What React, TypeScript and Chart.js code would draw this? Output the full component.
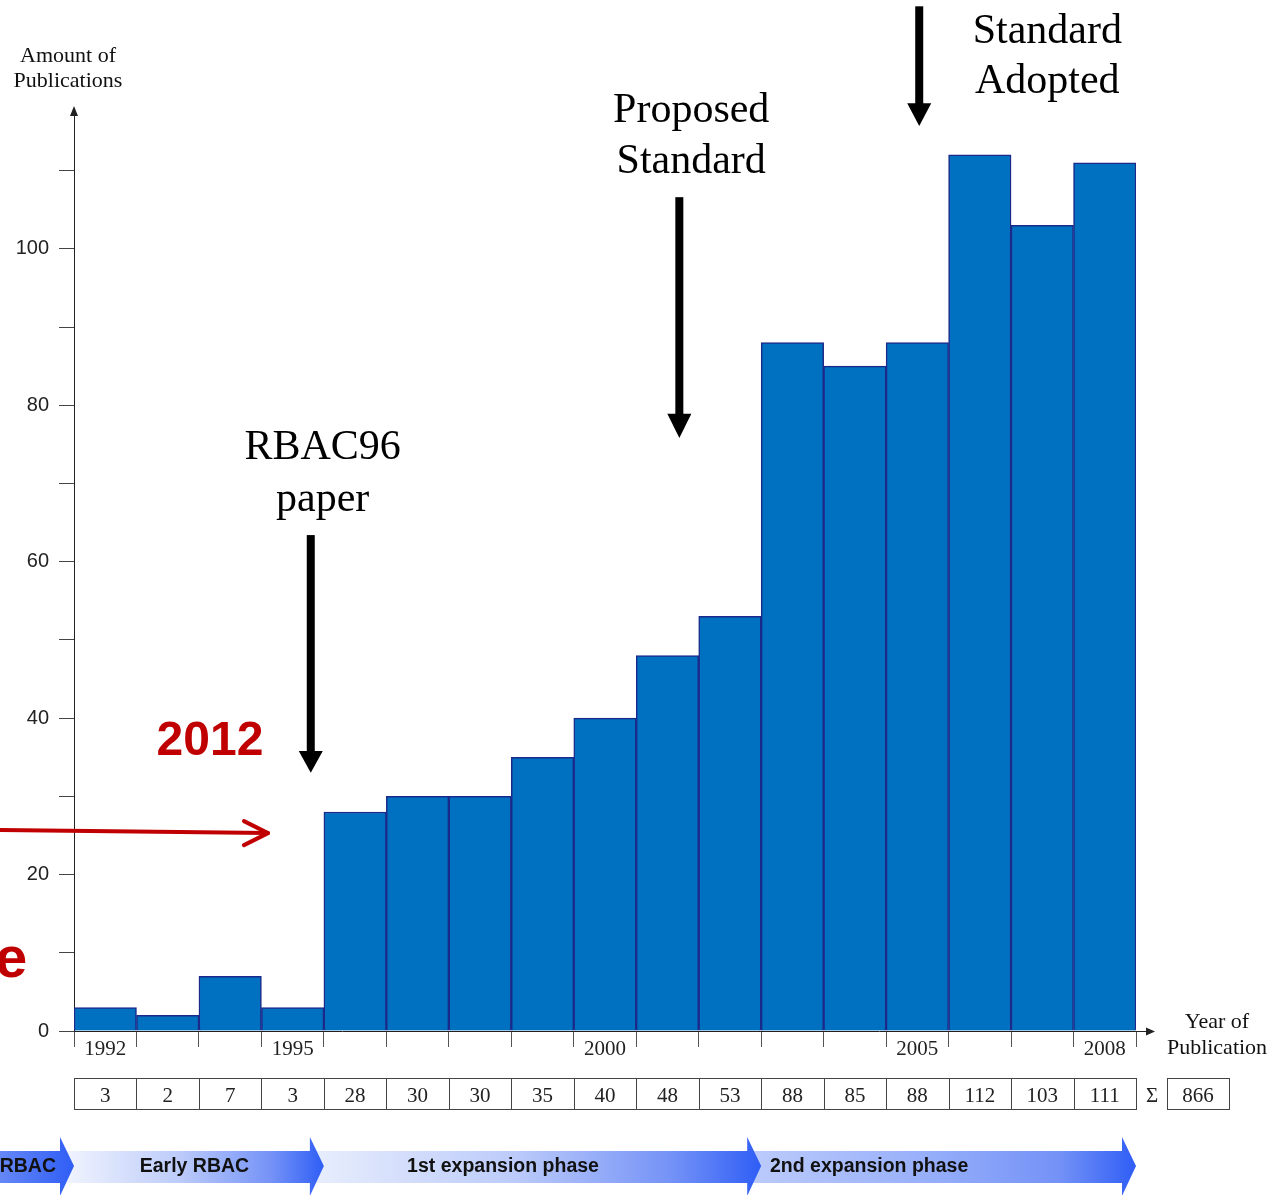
import React, { useEffect, useRef } from 'react';
import { Chart, registerables, Plugin } from 'chart.js';

Chart.register(...registerables);

const YEARS = ['1992', '1993', '1994', '1995', '1996', '1997', '1998', '1999', '2000', '2001', '2002', '2003', '2004', '2005', '2006', '2007', '2008'];
const PUBLICATIONS = [3, 2, 7, 3, 28, 30, 30, 35, 40, 48, 53, 88, 85, 88, 112, 103, 111];
const LABELED_YEARS = ['1992', '1995', '2000', '2005', '2008'];
const Y_MAX = 118;
const Y_STEP = 10;
const Y_LABEL_STEP = 20;

// phases below the chart: name and the index of the year where each phase ends
const PHASE_NAMES = ['RBAC', 'Early RBAC', '1st expansion phase', '2nd expansion phase'];
const PHASE_END = [0, 4, 11, 17];

const SERIF = '"Liberation Serif", "Times New Roman", serif';
const SANS = '"Liberation Sans", Arial, sans-serif';

function downArrow(ctx: CanvasRenderingContext2D, x: number, top: number, base: number, tip: number) {
  ctx.fillRect(x - 4, top, 8, base - top + 1);
  ctx.beginPath();
  ctx.moveTo(x - 12, base);
  ctx.lineTo(x + 12, base);
  ctx.lineTo(x, tip);
  ctx.closePath();
  ctx.fill();
}

const overlay: Plugin<'bar'> = {
  id: 'overlay',
  afterDraw(chart) {
    const { ctx, chartArea } = chart;
    const xs = chart.scales.x;
    const ys = chart.scales.y;
    const px = (i: number) => xs.getPixelForValue(i);
    const py = (v: number) => ys.getPixelForValue(v);
    const edge = (i: number) => px(i - 0.5);
    const { left, right, top, bottom } = chartArea;

    ctx.save();
    ctx.fillStyle = '#222';
    ctx.strokeStyle = '#222';
    ctx.lineWidth = 1;

    // x axis with arrow
    ctx.beginPath();
    ctx.moveTo(left, bottom + 0.5);
    ctx.lineTo(right + 12, bottom + 0.5);
    ctx.stroke();
    ctx.beginPath();
    ctx.moveTo(right + 19, bottom + 0.5);
    ctx.lineTo(right + 10, bottom - 3.5);
    ctx.lineTo(right + 10, bottom + 4.5);
    ctx.closePath();
    ctx.fill();

    // y axis arrow
    ctx.beginPath();
    ctx.moveTo(left, top - 2);
    ctx.lineTo(left - 4, top + 8);
    ctx.lineTo(left + 4, top + 8);
    ctx.closePath();
    ctx.fill();

    // axis titles
    ctx.fillStyle = '#111';
    ctx.font = `22px ${SERIF}`;
    ctx.textAlign = 'center';
    ctx.textBaseline = 'alphabetic';
    ctx.fillText('Amount of', left - 6, top - 46);
    ctx.fillText('Publications', left - 6, top - 21);
    ctx.fillText('Year of', right + 81, bottom - 3);
    ctx.fillText('Publication', right + 81, bottom + 23);

    // value table
    const tTop = bottom + 47.5;
    const tH = 31;
    ctx.strokeStyle = '#444';
    ctx.font = `21px ${SERIF}`;
    ctx.fillStyle = '#222';
    PUBLICATIONS.forEach((v, i) => {
      ctx.strokeRect(Math.round(edge(i)) + 0.5, tTop, Math.round(edge(i + 1)) - Math.round(edge(i)), tH);
      ctx.fillText(String(v), px(i), tTop + 23);
    });
    const total = PUBLICATIONS.reduce((a, b) => a + b, 0);
    const end = edge(PUBLICATIONS.length);
    ctx.fillText('\u03A3', end + 16, tTop + 23);
    ctx.strokeRect(Math.round(end + 31) + 0.5, tTop, 62, tH);
    ctx.fillText(String(total), end + 62, tTop + 23);

    // phase arrows, drawn right to left so heads overlap next bodies
    const phaseStyle = [
      { align: 'right' as CanvasTextAlign, dx: -18, from: '#f2f5fe' },
      { align: 'center' as CanvasTextAlign, dx: 8, from: '#f2f5fe' },
      { align: 'center' as CanvasTextAlign, dx: -27, from: '#e8eefd' },
      { align: 'left' as CanvasTextAlign, dx: -366, from: '#bccbfb' },
    ];
    for (let k = PHASE_NAMES.length - 1; k >= 0; k--) {
      const st = phaseStyle[k];
      const tip = edge(PHASE_END[k]);
      const start = k === 0 ? tip - 470 : edge(PHASE_END[k - 1]) - 11;
      const base = tip - 14;
      const g = ctx.createLinearGradient(start, 0, tip, 0);
      g.addColorStop(0, st.from);
      g.addColorStop(0.45, k === 3 ? '#98b0fa' : '#bccbfa');
      g.addColorStop(0.8, '#7492f7');
      g.addColorStop(1, '#2f5ef5');
      ctx.fillStyle = g;
      ctx.beginPath();
      ctx.moveTo(start, bottom + 120);
      ctx.lineTo(base, bottom + 120);
      ctx.lineTo(base, bottom + 106);
      ctx.lineTo(tip, bottom + 135);
      ctx.lineTo(base, bottom + 165);
      ctx.lineTo(base, bottom + 152);
      ctx.lineTo(start, bottom + 152);
      ctx.closePath();
      ctx.fill();

      const lx = st.dx + (st.align === 'center' ? (start + base) / 2 : tip);
      ctx.fillStyle = '#111';
      ctx.font = `bold 19.5px ${SANS}`;
      ctx.textAlign = st.align;
      ctx.textBaseline = 'middle';
      ctx.fillText(PHASE_NAMES[k], lx, bottom + 136);
    }

    // annotations (category index / value units)
    ctx.fillStyle = '#000';
    ctx.textAlign = 'center';
    ctx.textBaseline = 'alphabetic';
    ctx.font = `42px ${SERIF}`;
    ctx.fillText('RBAC96', px(3.48), py(73.1));
    ctx.fillText('paper', px(3.48), py(66.5));
    downArrow(ctx, px(3.29), py(63.4), py(35.8), py(33.0));

    ctx.fillText('Proposed', px(9.38), py(116.2));
    ctx.fillText('Standard', px(9.38), py(109.7));
    downArrow(ctx, px(9.19), py(106.6), py(78.9), py(75.8));

    ctx.fillText('Standard', px(15.08), py(126.3));
    ctx.fillText('Adopted', px(15.08), py(119.9));
    downArrow(ctx, px(13.03), py(131.0), py(118.6), py(115.7));

    // red overlay
    ctx.fillStyle = '#C00000';
    ctx.strokeStyle = '#C00000';
    ctx.font = `bold 48px ${SANS}`;
    ctx.fillText('2012', px(1.677), py(35.3));
    ctx.textAlign = 'right';
    ctx.font = `bold 58px ${SANS}`;
    ctx.fillText('e', px(-1.25), py(6.9));

    const ax = px(2.605);
    const ay = py(25.3);
    ctx.lineWidth = 4;
    ctx.lineCap = 'round';
    ctx.lineJoin = 'round';
    ctx.beginPath();
    ctx.moveTo(px(-1.8), py(25.7));
    ctx.lineTo(ax, ay);
    ctx.stroke();
    ctx.beginPath();
    ctx.moveTo(ax - 24, ay - 12);
    ctx.lineTo(ax, ay);
    ctx.lineTo(ax - 24, ay + 12);
    ctx.stroke();

    ctx.restore();
  },
};

export default function App() {
  const canvasRef = useRef<HTMLCanvasElement | null>(null);

  useEffect(() => {
    if (!canvasRef.current) return;
    const chart = new Chart(canvasRef.current, {
      type: 'bar',
      data: {
        labels: YEARS,
        datasets: [
          {
            data: PUBLICATIONS,
            backgroundColor: '#0070C0',
            borderColor: '#1B2A8A',
            borderWidth: 1.5,
            barPercentage: 1,
            categoryPercentage: 1,
          },
        ],
      },
      options: {
        responsive: false,
        animation: false,
        layout: { padding: { left: 0, right: 134, top: 108, bottom: 124 } },
        plugins: { legend: { display: false }, tooltip: { enabled: false } },
        scales: {
          x: {
            offset: true,
            grid: { drawOnChartArea: false, tickLength: 16, color: '#555', offset: true },
            border: { display: false },
            ticks: {
              autoSkip: false,
              maxRotation: 0,
              padding: -10,
              color: '#222',
              font: { family: SERIF, size: 21 },
              callback: (_v, i) => (LABELED_YEARS.includes(YEARS[i]) ? YEARS[i] : ''),
            },
            afterFit: (s) => {
              s.height = 40;
            },
          },
          y: {
            min: 0,
            max: Y_MAX,
            grid: { drawOnChartArea: false, tickLength: 15, color: '#444' },
            border: { display: true, color: '#222' },
            ticks: {
              stepSize: Y_STEP,
              includeBounds: false,
              padding: 10,
              color: '#222',
              font: { family: SANS, size: 20 },
              callback: (v) => (Number(v) % Y_LABEL_STEP === 0 ? String(v) : ''),
            },
            afterFit: (s) => {
              s.width = 74;
            },
          },
        },
      },
      plugins: [overlay],
    });
    return () => chart.destroy();
  }, []);

  return (
    <div style={{ position: 'fixed', left: 0, top: 0, width: 1270, height: 1195, background: '#fff' }}>
      <canvas ref={canvasRef} width={1270} height={1195} style={{ display: 'block' }} />
    </div>
  );
}
